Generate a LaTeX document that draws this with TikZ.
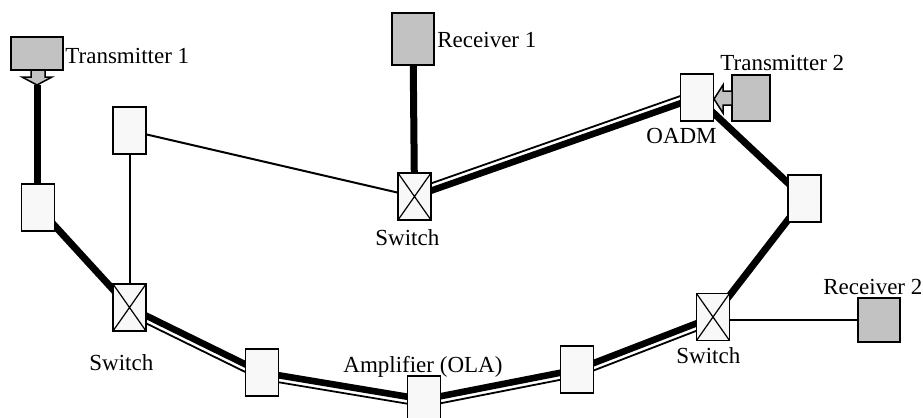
\documentclass[tikz,border=0pt]{standalone}
\usepackage{fontspec}
\setmainfont{Liberation Serif}
\usetikzlibrary{calc,backgrounds}
\definecolor{boxfill}{HTML}{F8F8F8}
\definecolor{devgray}{HTML}{C2C2C2}
\tikzset{
  box/.style={draw, line width=0.75pt, fill=boxfill, minimum width=16.5pt, minimum height=23.5pt, inner sep=0pt, outer sep=0pt},
  switchbox/.style={box, path picture={\draw[line width=0.6pt] (path picture bounding box.north west) -- (path picture bounding box.south east) (path picture bounding box.north east) -- (path picture bounding box.south west);}},
  dev/.style={draw, line width=0.75pt, fill=devgray, inner sep=0pt, outer sep=0pt},
  lbl/.style={anchor=base west, inner sep=0pt, font=\fontsize{11.5}{13}\selectfont},
  fatline/.style={line width=3.5pt},
  slimline/.style={line width=1pt},
  devarrow/.style={draw, line width=0.75pt, fill=devgray, line join=miter}
}
\newcommand\dblline[2]{%
  \draw[line width=3.3pt] (#1.center) -- (#2.center);
  \draw[line width=0.9pt] ($(#1)!3.45pt!-90:(#2)$) -- ($(#2)!3.45pt!90:(#1)$);
}
\begin{document}
\begin{tikzpicture}[x=0.5pt,y=-0.5pt]
\useasboundingbox (0,0) rectangle (923,418);
% devices
\node[dev, minimum width=26pt, minimum height=16.5pt] (tx1) at (37,53.5) {};
\node[dev, minimum width=21pt, minimum height=26pt] (rx1) at (413,39) {};
\node[dev, minimum width=19pt, minimum height=23pt] (tx2) at (751,98) {};
\node[dev, minimum width=21pt, minimum height=22pt] (rx2) at (879,320) {};
% arrows of transmitters
\draw[devarrow] (31,70) -- (45,70) -- (45,77) -- (52,77) -- (37,85) -- (22,77) -- (31,77) -- cycle;
\coordinate (tx1tip) at (37,85);
\draw[devarrow] (732,91) -- (723,91) -- (723,85) -- (714,99) -- (723,113) -- (723,105) -- (732,105) -- cycle;
% boxes
\node[box] (A) at (38,207.5) {};
\node[box] (B) at (129.5,130.5) {};
\node[switchbox] (sw1) at (129.5,307.5) {};
\node[switchbox] (sw2) at (414.5,196.5) {};
\node[box] (oadm) at (697,97.5) {};
\node[box] (C) at (804.5,198.5) {};
\node[switchbox] (sw3) at (713,317) {};
\node[box] (D) at (262,372.5) {};
\node[box] (E) at (424,399.5) {};
\node[box] (F) at (577,369.5) {};
% labels
\node[lbl] (ltx1) at (65,63) {Transmitter 1};
\node[lbl] (lrx1) at (437,47) {Receiver 1};
\node[lbl] (ltx2) at (720,70) {Transmitter 2};
\node[lbl] (lrx2) at (823,294) {Receiver 2};
\node[lbl] (loadm) at (646,143) {OADM};
\node[lbl] (lsw2) at (375,245) {Switch};
\node[lbl] (lsw1) at (89,370) {Switch};
\node[lbl] (lsw3) at (676,363) {Switch};
\node[lbl] (lamp) at (343,372) {Amplifier (OLA)};
% connectors
\begin{pgfonlayer}{background}
\draw[fatline] (tx1tip) -- (tx1tip |- A.center);
\draw[fatline] (A.center) -- (sw1.center);
\draw[fatline] (rx1.center) -- (sw2.center);
\draw[fatline] (oadm.center) -- (C.center);
\draw[fatline] (C.center) -- (sw3.center);
\draw[slimline] (B.center) -- (sw1.center);
\draw[slimline] (B.center) -- (sw2.center);
\draw[slimline] (sw3.center |- rx2.center) -- (rx2.center);
\dblline{sw1}{D}
\dblline{D}{E}
\dblline{E}{F}
\dblline{F}{sw3}
\dblline{oadm}{sw2}
\end{pgfonlayer}
\end{tikzpicture}
\end{document}
